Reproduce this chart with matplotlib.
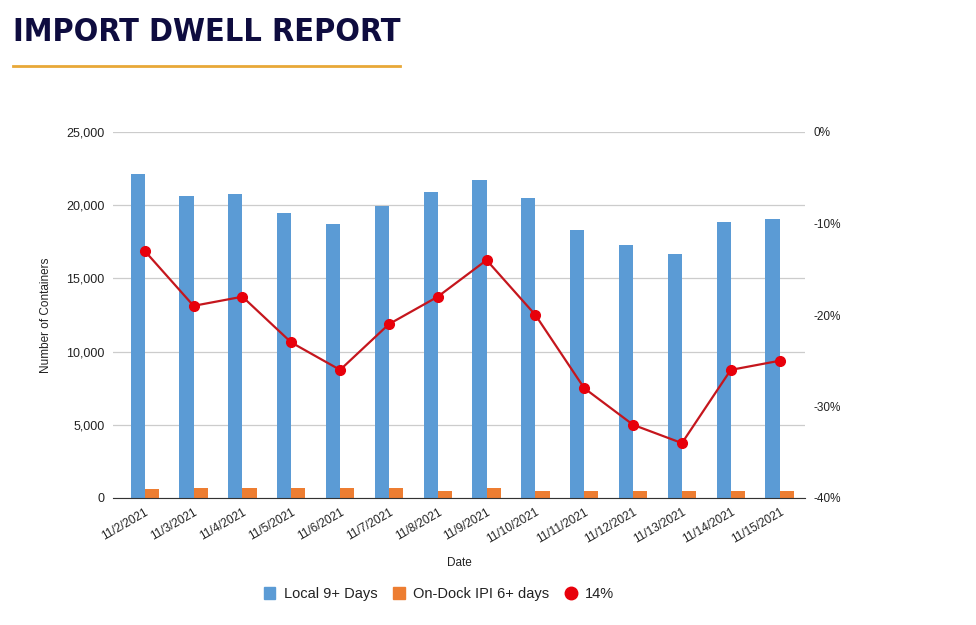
import matplotlib.pyplot as plt
import numpy as np
from matplotlib.lines import Line2D
from matplotlib.patches import Patch
from matplotlib.ticker import FuncFormatter

DATES = ["11/2/2021", "11/3/2021", "11/4/2021", "11/5/2021", "11/6/2021",
         "11/7/2021", "11/8/2021", "11/9/2021", "11/10/2021", "11/11/2021",
         "11/12/2021", "11/13/2021", "11/14/2021", "11/15/2021"]
LOCAL = [22100, 20600, 20750, 19450, 18700, 19950, 20900, 21700, 20500,
         18300, 17300, 16700, 18850, 19050]
ONDOCK = [600, 700, 700, 700, 700, 650, 500, 650, 500, 500, 500, 500, 500, 500]
PCT = [-13, -19, -18, -23, -26, -21, -18, -14, -20, -28, -32, -34, -26, -25]

BLUE = "#5b9bd5"
ORANGE = "#ed7d31"
RED = "#e8000b"
LINE_RED = "#c5161d"
NAVY = "#0e0c3f"
GOLD = "#e8a838"
TEXT = "#222222"

plt.rcParams["font.family"] = ["Liberation Sans", "DejaVu Sans"]

fig = plt.figure(figsize=(9.76, 6.25), dpi=100)

# Header
fig.text(13 / 976, 1 - 41 / 625, "IMPORT DWELL REPORT", fontsize=23.2,
         fontweight="bold", fontstretch="condensed", color=NAVY,
         family="DejaVu Sans", ha="left", va="baseline")
fig.add_artist(Line2D([13 / 976, 400 / 976], [1 - 66 / 625, 1 - 66 / 625],
                      color=GOLD, linewidth=2))

ax = fig.add_axes([113 / 976, 1 - 498 / 625, (805 - 113) / 976, (498 - 132) / 625])
x = np.arange(len(DATES))
w = 0.29
ax.bar(x - w / 2, LOCAL, width=w, color=BLUE, zorder=2)
ax.bar(x + w / 2, ONDOCK, width=w, color=ORANGE, zorder=2)

ax.set_xlim(-0.65, 13.52)
ax.set_ylim(0, 25000)
ax.set_yticks(np.arange(0, 25001, 5000))
ax.yaxis.set_major_formatter(FuncFormatter(lambda v, p: f"{int(v):,}"))
ax.grid(axis="y", color="#cccccc", linewidth=0.9, zorder=0)
ax.set_axisbelow(True)
for s in ["top", "right", "left"]:
    ax.spines[s].set_visible(False)
ax.spines["bottom"].set_color("#333333")
ax.tick_params(axis="both", length=0, labelsize=8.5, colors=TEXT)
ax.tick_params(axis="y", pad=6, labelsize=9)
ax.set_xticks(x)
ax.set_xticklabels(DATES, rotation=30, ha="right", rotation_mode="anchor")
ax.tick_params(axis="x", pad=6)
ax.set_xlabel("Date", fontsize=8.5, color=TEXT, labelpad=8)
ax.set_ylabel("Number of Containers", fontsize=8.5, color=TEXT, labelpad=10)

ax2 = ax.twinx()
ax2.plot(x, PCT, color=LINE_RED, linewidth=1.6, marker="o", markersize=7,
         markerfacecolor=RED, markeredgecolor=RED, zorder=3)
ax2.set_ylim(-40, 0)
ax2.set_yticks(np.arange(-40, 1, 10))
ax2.yaxis.set_major_formatter(FuncFormatter(lambda v, p: f"{int(v)}%"))
ax2.tick_params(axis="y", length=0, labelsize=8.5, colors=TEXT, pad=6)
for s in ["top", "right", "left", "bottom"]:
    ax2.spines[s].set_visible(False)

handles = [Patch(color=BLUE), Patch(color=ORANGE),
           Line2D([], [], marker="o", linestyle="none", markersize=9,
                  markerfacecolor=RED, markeredgecolor=RED)]
fig.legend(handles, ["Local 9+ Days", "On-Dock IPI 6+ days", "14%"],
           loc="center", bbox_to_anchor=(439 / 976, 1 - 594 / 625), ncol=3,
           frameon=False, fontsize=10.5, handlelength=0.8, handleheight=0.8,
           handletextpad=0.6, columnspacing=1.05, labelcolor=TEXT)

fig.savefig("out.png", dpi=100)
